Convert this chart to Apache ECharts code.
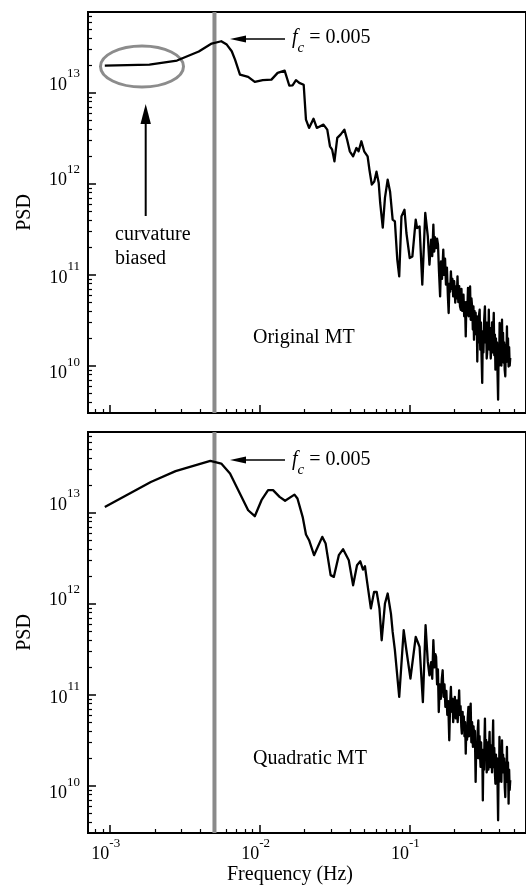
<!DOCTYPE html>
<html>
<head>
<meta charset="utf-8">
<script src="https://cdn.jsdelivr.net/npm/echarts@6/dist/echarts.min.js"></script>
<style>
  html, body { margin: 0; padding: 0; background: #fff; }
  #chart { width: 526px; height: 886px; }
</style>
</head>
<body>
<div id="chart"></div>
<script>
// Power spectral density of the original and quadratic multitaper estimates
const freqOriginal = [
  9.27e-4, 1.84e-3, 2.81e-3, 3.93e-3, 4.79e-3, 5.55e-3, 6.04e-3, 6.52e-3, 6.86e-3, 7.40e-3,
  8.39e-3, 9.29e-3, 1.05e-2, 1.20e-2, 1.32e-2, 1.47e-2, 1.58e-2, 1.66e-2, 1.75e-2, 1.84e-2,
  1.97e-2, 2.04e-2, 2.14e-2, 2.29e-2, 2.41e-2, 2.67e-2, 2.83e-2, 2.95e-2, 3.05e-2, 3.16e-2,
  3.30e-2, 3.47e-2, 3.68e-2, 3.84e-2, 4.00e-2, 4.21e-2, 4.43e-2, 4.58e-2, 4.78e-2, 4.99e-2,
  5.26e-2, 5.41e-2, 5.61e-2, 5.83e-2, 6.03e-2, 6.24e-2, 6.38e-2, 6.64e-2, 6.87e-2, 7.16e-2,
  7.43e-2, 7.73e-2, 8.00e-2, 8.30e-2, 8.55e-2, 8.85e-2, 9.27e-2, 9.55e-2, 0.1005, 0.1047,
  0.1102, 0.1125, 0.1169, 0.1219, 0.1276, 0.1327, 0.1361,
  0.1396, 0.1420, 0.1445, 0.1465, 0.1480, 0.1507, 0.1530, 0.1552, 0.1575, 0.1603,
  0.1625, 0.1650, 0.1683, 0.1705, 0.1730, 0.1754, 0.1780, 0.1805, 0.1828, 0.1850,
  0.1870, 0.1892, 0.1915, 0.1937, 0.1959, 0.1990, 0.2023, 0.2050, 0.2070, 0.2094,
  0.2120, 0.2150, 0.2175, 0.2203, 0.2225, 0.2250, 0.2275, 0.2296, 0.2320, 0.2350,
  0.2377, 0.2400, 0.2430, 0.2460, 0.2485, 0.2510, 0.2541, 0.2565, 0.2595, 0.2630,
  0.2650, 0.2675, 0.2698, 0.2720, 0.2745, 0.2767, 0.2790, 0.2815, 0.2838, 0.2865,
  0.2890, 0.2915, 0.2944, 0.2970, 0.3000, 0.3030, 0.3062, 0.3090, 0.3120, 0.3155,
  0.3192, 0.3220, 0.3250, 0.3280, 0.3304, 0.3330, 0.3360, 0.3388, 0.3420, 0.3450,
  0.3490, 0.3532, 0.3560, 0.3590, 0.3625, 0.3656, 0.3685, 0.3720, 0.3750, 0.3780,
  0.3810, 0.3845, 0.3875, 0.3908, 0.3940, 0.3970, 0.4000, 0.4035, 0.4070, 0.4110,
  0.4150, 0.4180, 0.4215, 0.4256, 0.4290, 0.4325, 0.4365, 0.4400, 0.4440, 0.4477,
  0.4510, 0.4550, 0.4592, 0.4630, 0.4670, 0.4710
];
const psdOriginal = [
  2.00e13, 2.05e13, 2.27e13, 2.85e13, 3.49e13, 3.70e13, 3.40e13, 2.87e13, 2.32e13, 1.59e13,
  1.50e13, 1.32e13, 1.38e13, 1.40e13, 1.66e13, 1.76e13, 1.20e13, 1.21e13, 1.38e13, 1.29e13,
  1.23e13, 5.08e12, 4.12e12, 5.21e12, 4.12e12, 4.48e12, 3.95e12, 2.59e12, 2.38e12, 1.77e12,
  3.20e12, 3.48e12, 3.95e12, 3.06e12, 2.28e12, 2.01e12, 2.48e12, 2.28e12, 2.94e12, 2.28e12,
  2.01e12, 1.43e12, 9.8e11, 1.06e12, 1.36e12, 1.02e12, 6.2e11, 3.30e11, 7.05e11, 1.11e12,
  8.2e11, 4.04e11, 3.86e11, 1.47e11, 9.6e10, 4.39e11, 5.20e11, 2.88e11, 1.53e11, 1.59e11,
  4.04e11, 3.27e11, 3.40e11, 7.8e10, 4.79e11, 2.64e11, 1.29e11,
  2.43e11, 1.6e11, 3.56e11, 1.8e11, 2.6e11, 1.97e11, 2.5e11, 2.14e11, 1.1e11, 5.78e10,
  1.4e11, 9.0e10, 1.89e11, 1.0e11, 1.5e11, 7.8e10, 1.2e11, 6.0e10, 3.80e10, 8.0e10,
  6.5e10, 1.09e11, 7.0e10, 9.0e10, 5.78e10, 8.5e10, 4.93e10, 7.5e10, 5.5e10, 9.6e10,
  5.0e10, 7.5e10, 4.5e10, 4.13e10, 7.0e10, 4.0e10, 5.5e10, 6.04e10, 3.5e10, 5.0e10,
  2.10e10, 5.0e10, 3.6e10, 7.16e10, 3.5e10, 6.0e10, 7.43e10, 3.2e10, 5.5e10, 4.13e10,
  2.5e10, 4.5e10, 1.93e10, 4.0e10, 2.6e10, 3.83e10, 2.2e10, 3.5e10, 1.11e10, 3.0e10,
  1.8e10, 3.6e10, 4.13e10, 1.5e10, 3.0e10, 1.3e10, 6.46e9, 2.4e10, 1.4e10, 3.2e10,
  4.49e10, 1.8e10, 3.0e10, 1.2e10, 1.38e10, 3.0e10, 1.6e10, 4.13e10, 1.5e10, 2.6e10,
  1.2e10, 1.63e10, 3.0e10, 1.4e10, 2.4e10, 3.80e10, 1.3e10, 2.2e10, 9.04e9, 2.0e10,
  1.1e10, 1.8e10, 8.0e9, 4.23e9, 1.5e10, 1.0e10, 2.95e10, 1.2e10, 2.2e10, 1.0e10,
  3.21e10, 1.4e10, 2.3e10, 1.08e10, 1.8e10, 9.0e9, 7.62e9, 1.7e10, 1.1e10, 2.70e10,
  1.2e10, 2.0e10, 9.8e9, 1.6e10, 1.0e10, 1.22e10
];
const freqQuadratic = [
  9.27e-4, 1.88e-3, 2.75e-3, 4.69e-3, 5.55e-3, 6.35e-3, 7.21e-3, 8.39e-3, 9.29e-3, 1.03e-2,
  1.14e-2, 1.23e-2, 1.36e-2, 1.48e-2, 1.71e-2, 1.79e-2, 1.94e-2, 2.04e-2, 2.14e-2, 2.31e-2,
  2.62e-2, 2.76e-2, 2.98e-2, 3.13e-2, 3.38e-2, 3.61e-2, 3.94e-2, 4.21e-2, 4.47e-2, 4.70e-2,
  4.90e-2, 5.05e-2, 5.20e-2, 5.53e-2, 5.81e-2, 6.05e-2, 6.31e-2, 6.53e-2, 6.87e-2, 7.16e-2,
  7.53e-2, 7.73e-2, 8.00e-2, 8.55e-2, 9.16e-2, 9.55e-2, 0.1016, 0.1102, 0.1138, 0.1169,
  0.1230, 0.1282, 0.1327, 0.1361,
  0.1396, 0.1420, 0.1445, 0.1470, 0.1490, 0.1507, 0.1530, 0.1550, 0.1570, 0.1595,
  0.1620, 0.1645, 0.1667, 0.1690, 0.1715, 0.1738, 0.1765, 0.1790, 0.1815, 0.1845,
  0.1870, 0.1892, 0.1915, 0.1940, 0.1960, 0.1982, 0.2010, 0.2040, 0.2075, 0.2100,
  0.2125, 0.2148, 0.2170, 0.2195, 0.2220, 0.2239, 0.2265, 0.2285, 0.2307, 0.2330,
  0.2355, 0.2377, 0.2400, 0.2425, 0.2450, 0.2477, 0.2500, 0.2530, 0.2564, 0.2590,
  0.2620, 0.2655, 0.2680, 0.2705, 0.2735, 0.2767, 0.2795, 0.2820, 0.2850, 0.2884,
  0.2910, 0.2940, 0.2960, 0.2985, 0.3010, 0.3040, 0.3065, 0.3090, 0.3120, 0.3150,
  0.3170, 0.3192, 0.3220, 0.3250, 0.3280, 0.3304, 0.3335, 0.3365, 0.3395, 0.3428,
  0.3460, 0.3495, 0.3532, 0.3560, 0.3590, 0.3622, 0.3650, 0.3685, 0.3720, 0.3750,
  0.3780, 0.3815, 0.3850, 0.3880, 0.3908, 0.3940, 0.3965, 0.3990, 0.4030, 0.4070,
  0.4110, 0.4150, 0.4185, 0.4220, 0.4256, 0.4290, 0.4330, 0.4365, 0.4400, 0.4440,
  0.4477, 0.4510, 0.4550, 0.4592, 0.4630, 0.4670, 0.4710
];
const psdQuadratic = [
  1.16e13, 2.19e13, 2.88e13, 3.73e13, 3.49e13, 2.71e13, 1.78e13, 1.07e13, 9.2e12, 1.38e13,
  1.78e13, 1.78e13, 1.50e13, 1.36e13, 1.59e13, 1.44e13, 9.0e12, 5.78e12, 5.01e12, 3.43e12,
  5.45e12, 4.60e12, 2.07e12, 1.98e12, 3.43e12, 3.99e12, 3.02e12, 1.60e12, 2.66e12, 2.94e12,
  2.38e12, 2.59e12, 1.82e12, 8.9e11, 1.35e12, 1.35e12, 8.9e11, 3.98e11, 1.01e12, 1.30e12,
  7.8e11, 4.91e11, 3.09e11, 9.5e10, 5.13e11, 3.09e11, 1.51e11, 4.33e11, 3.78e11, 3.36e11,
  8.3e10, 5.82e11, 2.30e11, 1.64e11,
  2.28e11, 1.5e11, 3.98e11, 2.0e11, 2.8e11, 2.61e11, 1.3e11, 1.9e11, 6.47e10, 1.3e11,
  9.0e10, 1.5e11, 1.86e11, 9.5e10, 1.3e11, 7.35e10, 1.1e11, 6.0e10, 8.5e10, 3.16e10,
  8.0e10, 1.22e11, 6.5e10, 9.0e10, 5.0e10, 6.75e10, 9.5e10, 5.5e10, 8.7e10, 5.0e10,
  7.5e10, 1.12e11, 6.0e10, 7.5e10, 4.5e10, 3.74e10, 6.5e10, 4.2e10, 5.8e10, 3.5e10,
  5.0e10, 2.25e10, 4.5e10, 3.2e10, 5.5e10, 7.35e10, 3.5e10, 6.0e10, 8.0e10, 3.0e10,
  5.0e10, 2.67e10, 4.5e10, 2.8e10, 4.0e10, 1.10e10, 3.0e10, 2.0e10, 3.8e10, 5.24e10,
  2.0e10, 3.5e10, 2.2e10, 1.61e10, 3.0e10, 1.6e10, 2.5e10, 6.9e9, 2.5e10, 1.5e10,
  3.2e10, 5.47e10, 2.0e10, 3.2e10, 1.4e10, 1.61e10, 3.0e10, 1.5e10, 2.5e10, 3.90e10,
  1.6e10, 2.4e10, 2.78e10, 1.4e10, 2.8e10, 5.24e10, 1.6e10, 2.6e10, 1.4e10, 1.05e10,
  2.2e10, 1.2e10, 2.0e10, 9.0e9, 4.16e9, 1.6e10, 1.1e10, 3.44e10, 1.3e10, 2.4e10,
  1.1e10, 3.16e10, 1.4e10, 2.2e10, 1.48e10, 2.0e10, 9.5e9, 7.5e9, 1.8e10, 1.1e10,
  2.67e10, 1.1e10, 1.8e10, 6.35e9, 1.5e10, 9.0e9, 1.15e10
];

const cutoffFreq = 0.005;

// Axis ranges and tick positions (log scales)
const xRange = [7.16e-4, 0.6];
const yRange = [3.02e9, 7.76e13];
const xMajorTicks = [1e-3, 1e-2, 1e-1];
const xMinorTicks = [8e-4, 9e-4,
  2e-3, 3e-3, 4e-3, 5e-3, 6e-3, 7e-3, 8e-3, 9e-3,
  2e-2, 3e-2, 4e-2, 5e-2, 6e-2, 7e-2, 8e-2, 9e-2,
  2e-1, 3e-1, 4e-1, 5e-1];
const yMajorTicks = [1e10, 1e11, 1e12, 1e13];
const yMinorTicks = [4e9, 5e9, 6e9, 7e9, 8e9, 9e9,
  2e10, 3e10, 4e10, 5e10, 6e10, 7e10, 8e10, 9e10,
  2e11, 3e11, 4e11, 5e11, 6e11, 7e11, 8e11, 9e11,
  2e12, 3e12, 4e12, 5e12, 6e12, 7e12, 8e12, 9e12,
  2e13, 3e13, 4e13, 5e13, 6e13, 7e13];

const SERIF = '"Liberation Serif", "Times New Roman", serif';
const exponentOf = v => Math.round(Math.log10(v));

// x labels: base "10" with a raised exponent
const xLabel = v => '{b|10}{s|' + exponentOf(v) + '}';
const xRich = {
  b: { fontFamily: SERIF, fontSize: 18, color: '#000' },
  s: { fontFamily: SERIF, fontSize: 13, color: '#000', padding: [0, 8, 22, 0] }
};

// y labels: the decade labels sit slightly spread relative to their ticks
const yLabelShift = { 10: 7.5, 11: 3, 12: -3.5, 13: -8 };
const yRich = {};
Object.keys(yLabelShift).forEach(e => {
  const d = yLabelShift[e];
  yRich['b' + e] = { fontFamily: SERIF, fontSize: 18, color: '#000',
    padding: d >= 0 ? [2 * d, 0, 0, 0] : [0, 0, -2 * d, 0] };
  const sd = 2 * d - 22;
  yRich['s' + e] = { fontFamily: SERIF, fontSize: 13, color: '#000',
    padding: sd >= 0 ? [sd, 0, 0, 0] : [0, 0, -sd, 0] };
});
const yLabel = v => {
  const e = exponentOf(v);
  return '{b' + e + '|10}{s' + e + '|' + e + '}';
};

const gridBox = top => ({
  left: 88, top: top, width: 443, height: 401,
  show: true, borderColor: '#000', borderWidth: 2, backgroundColor: 'transparent'
});

function xAxesFor(gridIndex, withLabels) {
  return [
    {
      type: 'log', gridIndex, min: xRange[0], max: xRange[1], position: 'bottom',
      axisLine: { show: true, onZero: false, lineStyle: { color: '#000', width: 2 } },
      axisTick: { show: true, inside: true, length: 8, customValues: xMajorTicks,
        lineStyle: { color: '#000', width: 1.5 } },
      axisLabel: { show: withLabels, customValues: xMajorTicks, formatter: xLabel,
        rich: xRich, margin: 4 },
      splitLine: { show: false },
      name: withLabels ? 'Frequency (Hz)' : '',
      nameLocation: 'middle', nameGap: 30,
      nameTextStyle: { fontFamily: SERIF, fontSize: 20, color: '#000',
        verticalAlign: 'top', padding: [0, 34, 0, 0] }
    },
    {
      type: 'log', gridIndex, min: xRange[0], max: xRange[1], position: 'bottom',
      axisLine: { show: false, onZero: false },
      axisTick: { show: true, inside: true, length: 4, customValues: xMinorTicks,
        lineStyle: { color: '#000', width: 1.2 } },
      axisLabel: { show: false },
      splitLine: { show: false }
    }
  ];
}

function yAxesFor(gridIndex) {
  return [
    {
      type: 'log', gridIndex, min: yRange[0], max: yRange[1], position: 'left',
      axisLine: { show: true, onZero: false, lineStyle: { color: '#000', width: 2 } },
      axisTick: { show: true, inside: true, length: 8, customValues: yMajorTicks,
        lineStyle: { color: '#000', width: 1.5 } },
      axisLabel: { show: true, customValues: yMajorTicks, formatter: yLabel,
        rich: yRich, margin: 8 },
      splitLine: { show: false },
      name: 'PSD', nameLocation: 'middle', nameGap: 53,
      nameTextStyle: { fontFamily: SERIF, fontSize: 20, color: '#000' }
    },
    {
      type: 'log', gridIndex, min: yRange[0], max: yRange[1], position: 'left',
      axisLine: { show: false, onZero: false },
      axisTick: { show: true, inside: true, length: 4, customValues: yMinorTicks,
        lineStyle: { color: '#000', width: 1.2 } },
      axisLabel: { show: false },
      splitLine: { show: false }
    }
  ];
}

const zip = (xs, ys) => xs.map((x, i) => [x, ys[i]]);

function psdSeries(axisIndex, freqs, psd) {
  return {
    type: 'line', xAxisIndex: axisIndex, yAxisIndex: axisIndex,
    data: zip(freqs, psd), symbol: 'none', z: 3, silent: true,
    lineStyle: { color: '#000', width: 2.3, join: 'round' }
  };
}

// vertical marker at the cutoff frequency, spanning the full y range
function cutoffSeries(axisIndex) {
  return {
    type: 'line', xAxisIndex: axisIndex, yAxisIndex: axisIndex, z: 1, silent: true,
    data: [[cutoffFreq, yRange[0]], [cutoffFreq, yRange[1]]], symbol: 'none',
    lineStyle: { color: '#8a8a8a', width: 4 }
  };
}

// Annotation helpers
const fcLabel = (x, y) => ({
  type: 'text', x, y,
  style: {
    text: '{i|f}{c|c}{n| = 0.005}', align: 'left', verticalAlign: 'middle',
    rich: {
      i: { fontFamily: SERIF, fontSize: 20, fontStyle: 'italic', fill: '#000' },
      c: { fontFamily: SERIF, fontSize: 15, fontStyle: 'italic', fill: '#000', padding: [21, 0, 0, 0] },
      n: { fontFamily: SERIF, fontSize: 20, fill: '#000' }
    }
  }
});
const leftArrow = y => [
  { type: 'line', shape: { x1: 243, y1: y, x2: 285, y2: y }, style: { stroke: '#000', lineWidth: 1.5 } },
  { type: 'polygon', shape: { points: [[230, y], [246, y - 3.5], [246, y + 3.5]] }, style: { fill: '#000' } }
];
const plainText = (x, y, text) => ({
  type: 'text', x, y,
  style: { text, fontFamily: SERIF, fontSize: 20, fill: '#000', align: 'left',
    verticalAlign: 'middle', lineHeight: 24 }
});

const chart = echarts.init(document.getElementById('chart'), null, { renderer: 'canvas' });
chart.setOption({
  animation: false,
  backgroundColor: '#fff',
  grid: [gridBox(12), gridBox(432)],
  xAxis: [...xAxesFor(0, false), ...xAxesFor(1, true)],
  yAxis: [...yAxesFor(0), ...yAxesFor(1)],
  series: [
    cutoffSeries(0), psdSeries(0, freqOriginal, psdOriginal),
    cutoffSeries(2), psdSeries(2, freqQuadratic, psdQuadratic)
  ],
  graphic: {
    elements: [
      { type: 'ellipse', shape: { cx: 142, cy: 66.5, rx: 41.5, ry: 20.5 },
        style: { fill: 'none', stroke: '#8c8c8c', lineWidth: 3 } },
      { type: 'line', shape: { x1: 145.7, y1: 216, x2: 145.7, y2: 118 },
        style: { stroke: '#000', lineWidth: 2 } },
      { type: 'polygon', shape: { points: [[145.7, 104], [140.5, 124], [150.9, 124]] },
        style: { fill: '#000' } },
      plainText(115, 247, 'curvature\nbiased'),
      plainText(253, 338, 'Original MT'),
      plainText(253, 759, 'Quadratic MT'),
      ...leftArrow(39), fcLabel(292, 37.5),
      ...leftArrow(460), fcLabel(292, 459.5)
    ]
  }
});
</script>
</body>
</html>
